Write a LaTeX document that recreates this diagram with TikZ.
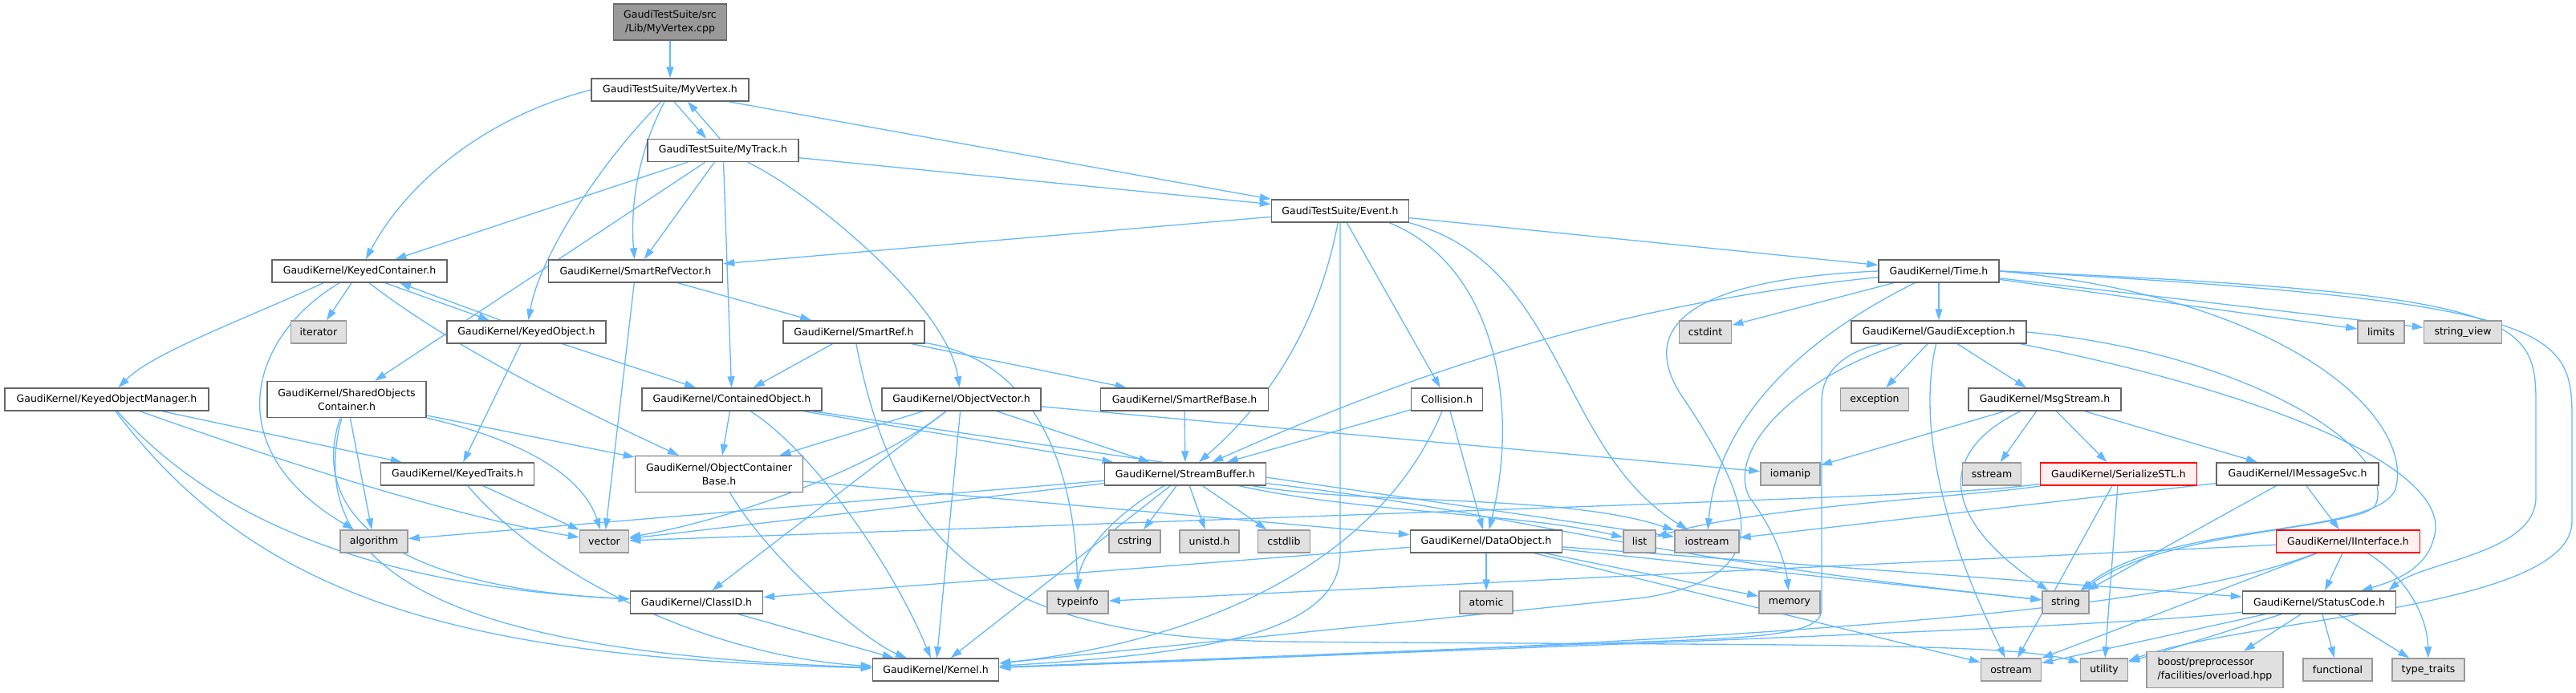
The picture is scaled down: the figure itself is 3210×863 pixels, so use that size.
\documentclass[tikz,border=0pt]{standalone}
\usepackage{fontspec}
\setmainfont{DejaVu Sans}
\usepackage{tikz}
\usetikzlibrary{arrows.meta, positioning, calc, backgrounds}
\definecolor{dxEdge}{HTML}{63B8FF}
\definecolor{dxBorder}{HTML}{666666}
\definecolor{dxSysFill}{HTML}{E0E0E0}
\definecolor{dxSysBorder}{HTML}{999999}
\definecolor{dxRootFill}{HTML}{999999}
\definecolor{dxTruncFill}{HTML}{FFF0F0}
\definecolor{dxTrunc}{HTML}{FF0000}
\tikzset{
  dxnode/.style={
    draw, line width=1.5pt, minimum height=28, inner xsep=4, inner ysep=2,
    font=\fontsize{12.5}{17}\selectfont, align=center
  },
  hdr/.style={dxnode, fill=white, draw=dxBorder},
  sys/.style={dxnode, fill=dxSysFill, draw=dxSysBorder},
  rootfile/.style={dxnode, fill=dxRootFill, draw=dxBorder, minimum height=45},
  trunc/.style={dxnode, fill=dxTruncFill, draw=dxTrunc},
  incl/.style={draw=dxEdge, line width=1.3pt, -{Triangle[length=14pt,width=9pt]}}
}

\begin{document}
\begin{tikzpicture}[x=1pt, y=-1pt]
  \useasboundingbox (0,0) rectangle (3210,863);

  % files
  \node[rootfile, minimum width=141] (cpp) at (835,27.5) {GaudiTestSuite/src\\/Lib/MyVertex.cpp};
  \node[hdr, minimum width=196] (myvertex) at (835,112) {GaudiTestSuite/MyVertex.h};
  \node[hdr, minimum width=188] (mytrack) at (901,187.5) {GaudiTestSuite/MyTrack.h};
  \node[hdr, minimum width=171] (event) at (1670,263) {GaudiTestSuite/Event.h};
  \node[hdr, minimum width=218] (keyedcont) at (448,338) {GaudiKernel/KeyedContainer.h};
  \node[hdr, minimum width=217] (smartrefvec) at (792,338) {GaudiKernel/SmartRefVector.h};
  \node[hdr, minimum width=150] (timeh) at (2416,338) {GaudiKernel/Time.h};
  \node[sys, minimum width=69] (iterator) at (397,414) {iterator};
  \node[hdr, minimum width=198] (keyedobj) at (656,414) {GaudiKernel/KeyedObject.h};
  \node[hdr, minimum width=176] (smartref) at (1064,414) {GaudiKernel/SmartRef.h};
  \node[sys, minimum width=65] (cstdint) at (2125,414) {cstdint};
  \node[hdr, minimum width=218] (gaudiexc) at (2416,414) {GaudiKernel/GaudiException.h};
  \node[sys, minimum width=58] (limits) at (2967,414) {limits};
  \node[sys, minimum width=97] (stringview) at (3069,414) {string\_view};
  \node[hdr, minimum width=254] (keyedobjmgr) at (133,498) {GaudiKernel/KeyedObjectManager.h};
  \node[hdr, minimum width=198, minimum height=45] (sharedobj) at (432,498) {GaudiKernel/SharedObjects\\Container.h};
  \node[hdr, minimum width=224] (containedobj) at (912,498) {GaudiKernel/ContainedObject.h};
  \node[hdr, minimum width=198] (objvector) at (1198,498) {GaudiKernel/ObjectVector.h};
  \node[hdr, minimum width=209] (smartrefbase) at (1476,498) {GaudiKernel/SmartRefBase.h};
  \node[hdr, minimum width=89] (collision) at (1803,498) {Collision.h};
  \node[sys, minimum width=85] (exception) at (2336,498) {exception};
  \node[hdr, minimum width=190] (msgstream) at (2548,498) {GaudiKernel/MsgStream.h};
  \node[hdr, minimum width=191] (keyedtraits) at (570,591) {GaudiKernel/KeyedTraits.h};
  \node[hdr, minimum width=209, minimum height=45] (objcontbase) at (896,591) {GaudiKernel/ObjectContainer\\Base.h};
  \node[hdr, minimum width=201] (streambuffer) at (1477,591) {GaudiKernel/StreamBuffer.h};
  \node[sys, minimum width=74] (iomanip) at (2231,591) {iomanip};
  \node[sys, minimum width=73] (sstream) at (2482,591) {sstream};
  \node[trunc, minimum width=195] (serializestl) at (2640,591) {GaudiKernel/SerializeSTL.h};
  \node[hdr, minimum width=202] (imessagesvc) at (2863,591) {GaudiKernel/IMessageSvc.h};
  \node[sys, minimum width=84] (algorithm) at (466,675) {algorithm};
  \node[sys, minimum width=61] (vector) at (753,675) {vector};
  \node[sys, minimum width=64] (cstring) at (1414,675) {cstring};
  \node[sys, minimum width=74] (unistd) at (1507,675) {unistd.h};
  \node[sys, minimum width=65] (cstdlib) at (1600,675) {cstdlib};
  \node[hdr, minimum width=189] (dataobject) at (1852,675) {GaudiKernel/DataObject.h};
  \node[sys, minimum width=40] (list) at (2043,675) {list};
  \node[sys, minimum width=80] (iostream) at (2127,675) {iostream};
  \node[trunc, minimum width=179] (iinterface) at (2926,675) {GaudiKernel/IInterface.h};
  \node[hdr, minimum width=165] (classid) at (868,751) {GaudiKernel/ClassID.h};
  \node[sys, minimum width=76] (typeinfo) at (1343,751) {typeinfo};
  \node[sys, minimum width=66] (atomic) at (1852,751) {atomic};
  \node[sys, minimum width=76] (memory) at (2230,751) {memory};
  \node[sys, minimum width=58] (string) at (2574,751) {string};
  \node[hdr, minimum width=191] (statuscode) at (2890,751) {GaudiKernel/StatusCode.h};
  \node[hdr, minimum width=157] (kernel) at (1166,835) {GaudiKernel/Kernel.h};
  \node[sys, minimum width=75] (ostream) at (2506,835) {ostream};
  \node[sys, minimum width=59] (utility) at (2622,835) {utility};
  \node[sys, minimum width=170, minimum height=45, align=left] (boost) at (2760,835) {boost/preprocessor\\/facilities/overload.hpp};
  \node[sys, minimum width=86] (functional) at (2913,835) {functional};
  \node[sys, minimum width=90] (typetraits) at (3026,835) {type\_traits};

  % includes, kept under the boxes
  \begin{pgfonlayer}{background}
  \draw[incl] (cpp) -- (myvertex);
  \draw[incl] (myvertex.west) .. controls (590,150) and (500,240) .. (keyedcont);
  \draw[incl] ([xshift=-11]myvertex.south) .. controls (750,200) and (672,320) .. (keyedobj);
  \draw[incl] ([xshift=-7]myvertex.south) .. controls (790,200) and (786,270) .. (smartrefvec);
  \draw[incl] ([xshift=5]myvertex.south) -- ([xshift=-21]mytrack.north);
  \draw[incl] ([xshift=-4]mytrack.north) -- ([xshift=22]myvertex.south);
  \draw[incl] ([xshift=73]myvertex.south) -- (event.north west);

  \draw[incl] (mytrack) -- (keyedcont);
  \draw[incl] (mytrack) -- (sharedobj);
  \draw[incl] (mytrack) -- (smartrefvec);
  \draw[incl] (mytrack) -- (containedobj);
  \draw[incl] (mytrack) .. controls (1010,240) and (1180,380) .. (objvector);
  \draw[incl] (mytrack) -- (event);

  \draw[incl] (event) -- (smartrefvec);
  \draw[incl] (event) -- (timeh);
  \draw[incl] (event) -- (collision);
  \draw[incl] (event) .. controls (1640,420) and (1570,510) .. (streambuffer);
  \draw[incl] (event) -- (1670,690) .. controls (1670,790) and (1500,815) .. (kernel);
  \draw[incl] ([xshift=-25]event.south east) .. controls (1860,330) and (1895,500) .. (dataobject);
  \draw[incl] (event.south east) .. controls (1950,330) and (1940,560) .. (iostream);

  \draw[incl] (keyedcont) -- (iterator);
  \draw[incl] ([xshift=32]keyedcont.south) -- ([xshift=-46]keyedobj.north);
  \draw[incl] ([xshift=-32]keyedobj.north) -- ([xshift=50]keyedcont.south);
  \draw[incl] ([xshift=-45]keyedcont.south) .. controls (300,400) and (190,440) .. (keyedobjmgr);
  \draw[incl] ([xshift=-25]keyedcont.south) .. controls (310,420) and (270,560) .. (algorithm);
  \draw[incl] ([xshift=12]keyedcont.south) .. controls (560,430) and (700,500) .. (objcontbase);

  \draw[incl] (smartrefvec) -- (vector);
  \draw[incl] (smartrefvec) -- (smartref);

  \draw[incl] (keyedobj) -- (keyedtraits);
  \draw[incl] (keyedobj) -- (containedobj);

  \draw[incl] (smartref) -- (containedobj);
  \draw[incl] (smartref) -- (smartrefbase);
  \draw[incl] (smartref) .. controls (1300,450) and (1340,600) .. (typeinfo);
  \draw[incl] (smartref) .. controls (1120,700) and (1250,795) .. (1600,800)
    .. controls (2200,805) and (2500,800) .. (utility);

  \draw[incl] (keyedobjmgr) -- (keyedtraits);
  \draw[incl] (keyedobjmgr) .. controls (420,600) and (600,650) .. (vector);
  \draw[incl] (keyedobjmgr) .. controls (260,640) and (450,730) .. (classid);
  \draw[incl] (keyedobjmgr) .. controls (330,760) and (600,820) .. (kernel);

  \draw[incl] (sharedobj) -- (objcontbase);
  \draw[incl] (sharedobj) .. controls (700,560) and (735,620) .. (vector);
  \draw[incl] (sharedobj) -- (algorithm);
  \draw[incl] (sharedobj) .. controls (390,620) and (450,730) .. (classid);
  \draw[incl] (sharedobj) .. controls (370,730) and (600,815) .. (kernel);

  \draw[incl] (keyedtraits) -- (vector);
  \draw[incl] (keyedtraits) .. controls (690,730) and (900,820) .. (kernel);

  \draw[incl] (containedobj) -- (objcontbase);
  \draw[incl] (containedobj) .. controls (1010,560) and (1110,700) .. (kernel);
  \draw[incl] (containedobj) -- (streambuffer);
  \draw[incl] (containedobj) -- (iostream);

  \draw[incl] (objvector) -- (objcontbase);
  \draw[incl] (objvector) .. controls (1080,590) and (900,650) .. (vector);
  \draw[incl] (objvector) -- (classid);
  \draw[incl] (objvector) -- (kernel);
  \draw[incl] (objvector) -- (streambuffer);
  \draw[incl] (objvector) -- (iomanip);

  \draw[incl] (smartrefbase) -- (streambuffer);

  \draw[incl] (collision) -- (streambuffer);
  \draw[incl] (collision) -- (dataobject);
  \draw[incl] (collision) .. controls (1720,700) and (1500,800) .. (kernel);

  \draw[incl] (objcontbase) -- (dataobject);
  \draw[incl] (objcontbase) .. controls (960,700) and (1080,800) .. (kernel);

  \draw[incl] (streambuffer) -- (algorithm);
  \draw[incl] (streambuffer) -- (vector);
  \draw[incl] (streambuffer) -- (cstring);
  \draw[incl] (streambuffer) -- (unistd);
  \draw[incl] (streambuffer) -- (cstdlib);
  \draw[incl] (streambuffer) .. controls (1390,640) and (1345,690) .. (typeinfo);
  \draw[incl] (streambuffer) -- (kernel);
  \draw[incl] (streambuffer) .. controls (1700,640) and (1900,640) .. (list);
  \draw[incl] (streambuffer) .. controls (1700,630) and (1950,615) .. (iostream);
  \draw[incl] (streambuffer) .. controls (1900,640) and (2000,690) .. (string);

  \draw[incl] (classid) -- (kernel);

  \draw[incl] (dataobject) -- (atomic);
  \draw[incl] (dataobject) -- (classid);
  \draw[incl] (dataobject) -- (memory);
  \draw[incl] (dataobject) -- (string);
  \draw[incl] (dataobject) -- (statuscode);
  \draw[incl] (dataobject) -- (ostream);

  \draw[incl] (timeh.west) .. controls (2060,350) and (2050,430) .. (2100,500)
    .. controls (2200,650) and (2200,720) .. (2050,745) -- (kernel);
  \draw[incl] (timeh) .. controls (2000,380) and (1750,470) .. (streambuffer);
  \draw[incl] (timeh) -- (cstdint);
  \draw[incl] (timeh) .. controls (2250,420) and (2140,520) .. (iostream);
  \draw[incl] (timeh) -- (gaudiexc);
  \draw[incl] (timeh) -- (limits);
  \draw[incl] (timeh) -- (stringview);
  \draw[incl] (timeh.east) .. controls (2850,370) and (3010,520) .. (2985,610)
    .. controls (2960,670) and (2700,650) .. (string);
  \draw[incl] (timeh.east) .. controls (3130,365) and (3160,395) .. (3160,500)
    -- (3160,620) .. controls (3160,690) and (3020,700) .. ([xshift=-10]statuscode.north east);
  \draw[incl] (timeh.east) .. controls (3180,375) and (3205,410) .. (3205,520)
    -- (3205,650) .. controls (3205,760) and (2800,770) .. (utility);

  \draw[incl] (gaudiexc) .. controls (2240,470) and (2150,560) .. (2180,620)
    .. controls (2210,660) and (2225,700) .. (memory);
  \draw[incl] (gaudiexc) .. controls (2290,440) and (2270,470) .. (2270,500)
    -- (2270,760) .. controls (2270,790) and (2200,795) .. (2050,800) -- (kernel);
  \draw[incl] (gaudiexc) -- (exception);
  \draw[incl] (gaudiexc) -- (msgstream);
  \draw[incl] (gaudiexc) .. controls (2396,500) and (2400,620) .. (ostream);
  \draw[incl] (gaudiexc.east) .. controls (2800,440) and (2990,560) .. (2960,630)
    .. controls (2940,660) and (2700,660) .. (string);
  \draw[incl] ([xshift=-8]gaudiexc.south east) .. controls (2780,480) and (3040,570) .. (3035,660)
    .. controls (3030,700) and (3000,720) .. (statuscode);

  \draw[incl] (msgstream) -- (iomanip);
  \draw[incl] (msgstream) -- (sstream);
  \draw[incl] (msgstream) -- (serializestl);
  \draw[incl] (msgstream) -- (imessagesvc);
  \draw[incl] (msgstream) .. controls (2420,560) and (2410,640) .. (string);

  \draw[incl] (serializestl) .. controls (2450,620) and (2200,630) .. (list);
  \draw[incl] (serializestl) .. controls (2450,615) .. (vector);
  \draw[incl] (serializestl) -- (ostream);
  \draw[incl] (serializestl) -- (utility);

  \draw[incl] (imessagesvc) -- (iostream);
  \draw[incl] (imessagesvc) -- (string);
  \draw[incl] (imessagesvc) -- (iinterface);

  \draw[incl] (iinterface) -- (typeinfo);
  \draw[incl] (iinterface) .. controls (2750,740) and (2500,790) .. (kernel);
  \draw[incl] (iinterface) -- (ostream);
  \draw[incl] (iinterface) -- (statuscode);
  \draw[incl] (iinterface) .. controls (3000,720) and (3025,770) .. (typetraits);

  \draw[incl] (statuscode) .. controls (2700,775) and (2400,790) .. (kernel);
  \draw[incl] (statuscode) -- (ostream);
  \draw[incl] (statuscode) -- (utility);
  \draw[incl] (statuscode) -- (boost);
  \draw[incl] (statuscode) -- (functional);
  \draw[incl] (statuscode) -- (typetraits);
  \end{pgfonlayer}
\end{tikzpicture}
\end{document}
